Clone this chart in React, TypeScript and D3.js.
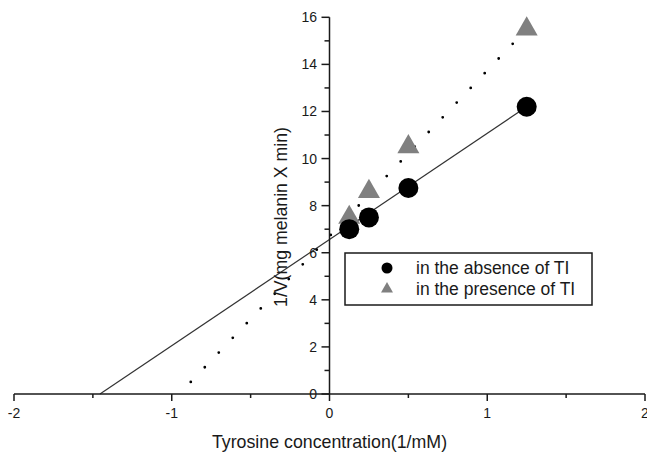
import React, { useEffect } from 'react';
import * as d3 from 'd3';

const concentration = [0.125, 0.25, 0.5, 1.25];
const absenceTI = [7.0, 7.5, 8.75, 12.2];
const presenceTI = [7.5, 8.6, 10.5, 15.5];
const absenceFitX = [-1.455, 1.25];
const absenceFitY = [0, 12.2];
const presenceFitX = [1.25, -0.888];
const presenceFitY = [15.5, 0.45];
const xTicks = [-2, -1, 0, 1, 2];
const xMinorTicks = [-1.5, -0.5, 0.5, 1.5];
const yTicks = [0, 2, 4, 6, 8, 10, 12, 14, 16];
const yMinorTicks = [1, 3, 5, 7, 9, 11, 13, 15];
const seriesLabels = ['in the absence of TI', 'in the presence of TI'];
const xTitle = 'Tyrosine concentration(1/mM)';
const yTitle = '1/V(mg melanin X min)';

const W = 647;
const H = 454;
const FONT = "'Liberation Sans', Arial, sans-serif";
const INK = '#1a1a1a';
const GRAY = '#808080';

export default function App() {
  useEffect(() => {
    document.body.style.margin = '0';
  }, []);

  const x = d3.scaleLinear().domain([-2, 2]).range([14, 645]);
  const y = d3.scaleLinear().domain([0, 16]).range([394, 17.3]);
  const line = d3
    .line<[number, number]>()
    .x((d) => x(d[0]))
    .y((d) => y(d[1]));

  const absFit: [number, number][] = absenceFitX.map((v, i) => [v, absenceFitY[i]]);
  const preFit: [number, number][] = presenceFitX.map((v, i) => [v, presenceFitY[i]]);
  const triBig = d3.symbol().type(d3.symbolTriangle).size(210)()!;
  const triSmall = d3.symbol().type(d3.symbolTriangle).size(62)()!;

  const x0 = x(0);
  const y0 = y(0);

  return (
    <svg width={W} height={H} style={{ display: 'block', background: '#fff' }} fontFamily={FONT}>
      {/* fit lines */}
      <path d={line(absFit)!} fill="none" stroke="#333" strokeWidth={1.2} />
      <path
        d={line(preFit)!}
        fill="none"
        stroke="#000"
        strokeWidth={2.8}
        strokeLinecap="round"
        strokeDasharray="0 20.3"
      />

      {/* axes */}
      <line x1={x(-2)} x2={x(2)} y1={y0} y2={y0} stroke={INK} strokeWidth={1.5} />
      <line x1={x0} x2={x0} y1={y(16)} y2={y0} stroke={INK} strokeWidth={1.5} />
      {xTicks.map((t) => (
        <g key={'xt' + t}>
          <line x1={x(t)} x2={x(t)} y1={y0} y2={y0 + 7} stroke={INK} strokeWidth={1.5} />
          <text x={x(t)} y={418} fontSize={14} textAnchor="middle" fill={INK}>
            {t}
          </text>
        </g>
      ))}
      {xMinorTicks.map((t) => (
        <line key={'xm' + t} x1={x(t)} x2={x(t)} y1={y0} y2={y0 + 4} stroke={INK} strokeWidth={1.5} />
      ))}
      {yTicks.map((t) => (
        <g key={'yt' + t}>
          <line x1={x0 - 8} x2={x0} y1={y(t)} y2={y(t)} stroke={INK} strokeWidth={1.5} />
          <text x={317} y={y(t) + 5} fontSize={14} textAnchor="end" fill={INK}>
            {t}
          </text>
        </g>
      ))}
      {yMinorTicks.map((t) => (
        <line key={'ym' + t} x1={x0 - 5} x2={x0} y1={y(t)} y2={y(t)} stroke={INK} strokeWidth={1.5} />
      ))}

      {/* titles */}
      <text x={(x(-2) + x(2)) / 2 - 0} y={448} fontSize={17.8} textAnchor="middle" fill={INK}>
        {xTitle}
      </text>
      <text
        transform={`translate(287,217) rotate(-90)`}
        fontSize={17.7}
        textAnchor="middle"
        fill={INK}
      >
        {yTitle}
      </text>

      {/* data markers */}
      {concentration.map((c, i) => (
        <path key={'p' + i} d={triBig} transform={`translate(${x(c)},${y(presenceTI[i])})`} fill={GRAY} />
      ))}
      {concentration.map((c, i) => (
        <circle key={'a' + i} cx={x(c)} cy={y(absenceTI[i])} r={10} fill="#000" />
      ))}

      {/* legend */}
      <rect x={345} y={253} width={247} height={52} fill="#fff" stroke={INK} strokeWidth={1.5} />
      <circle cx={387} cy={268} r={5.5} fill="#000" />
      <path d={triSmall} transform="translate(387,289)" fill={GRAY} />
      <text x={416} y={274} fontSize={17.5} fill={INK}>
        {seriesLabels[0]}
      </text>
      <text x={416} y={295} fontSize={17.5} fill={INK}>
        {seriesLabels[1]}
      </text>
    </svg>
  );
}
